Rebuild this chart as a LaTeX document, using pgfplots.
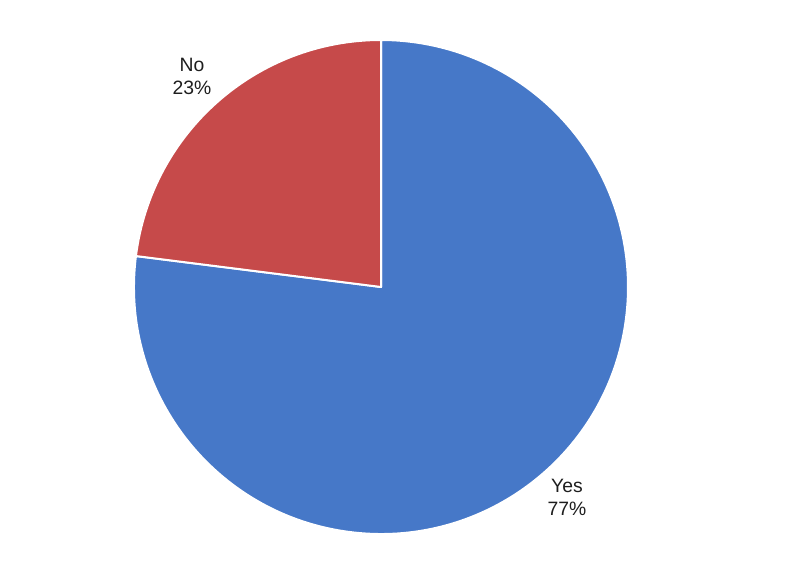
\documentclass[border=0pt]{standalone}
\usepackage{pgfplots}
\pgfplotsset{compat=1.18}
\usepackage{pgfplotstable}
\usepackage{fontspec}
\setmainfont{Liberation Sans}
\definecolor{yesblue}{RGB}{70,120,200}
\definecolor{nored}{RGB}{198,74,74}
\definecolor{txt}{RGB}{30,30,30}
\pgfplotstableread{
label value
No 23
Yes 77
}\piedata
\pgfplotstablegetelem{0}{value}\of\piedata
\pgfmathsetmacro\vNo{\pgfplotsretval}
\pgfplotstablegetelem{1}{value}\of\piedata
\pgfmathsetmacro\vYes{\pgfplotsretval}
\pgfmathsetmacro\aStart{90}
\pgfmathsetmacro\aNo{90+\vNo*3.6}
\pgfmathsetmacro\aYes{\aNo+\vYes*3.6}
\begin{document}
\begin{tikzpicture}
\begin{axis}[
  scale only axis, width=600pt, height=423.75pt,
  xmin=0, xmax=800, ymin=0, ymax=565,
  hide axis, clip=false,
]
\path (axis cs:0,0) rectangle (axis cs:800,565);
% Yes slice
\filldraw[fill=yesblue, draw=white, line width=1.5pt, line join=round]
  (axis cs:381,278) -- ++(axis direction cs:{247*cos(\aNo)},{247*sin(\aNo)})
  arc[start angle=\aNo, end angle=\aYes, radius=247] -- cycle;
% No slice
\filldraw[fill=nored, draw=white, line width=1.5pt, line join=round]
  (axis cs:381,278) -- ++(axis direction cs:{247*cos(\aStart)},{247*sin(\aStart)})
  arc[start angle=\aStart, end angle=\aNo, radius=247] -- cycle;
\node[align=center, text=txt, font=\fontsize{14.5}{17.5}\selectfont] at (axis cs:192,488.5) {No\\23\%};
\node[align=center, text=txt, font=\fontsize{14.5}{17.5}\selectfont] at (axis cs:567,67.5) {Yes\\77\%};
\end{axis}
\end{tikzpicture}
\end{document}
